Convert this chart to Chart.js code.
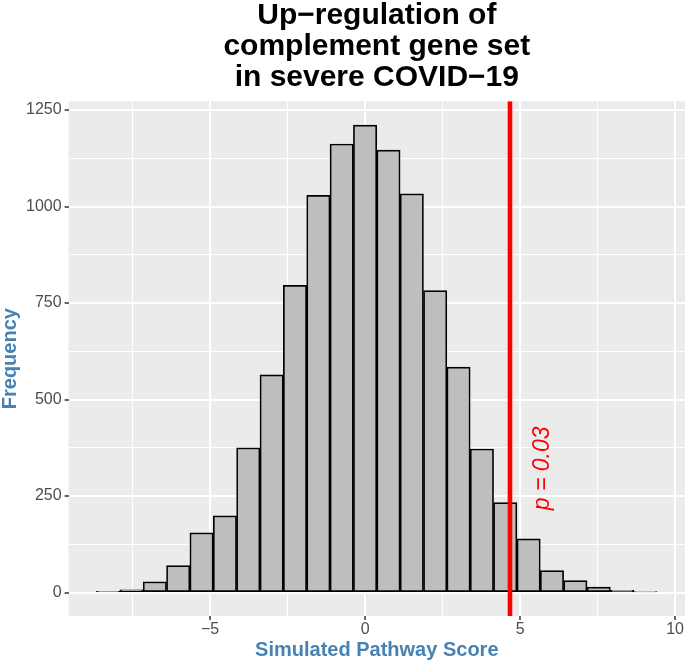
<!DOCTYPE html>
<html>
<head>
<meta charset="utf-8">
<title>Simulated pathway score histogram</title>
<script src="https://cdn.jsdelivr.net/npm/chart.js@4.4.0/dist/chart.umd.min.js"></script>
<style>
  html, body { margin: 0; padding: 0; background: #fff; overflow: hidden; }
  #wrap { width: 686px; height: 660px; }
</style>
</head>
<body>
<div id="wrap"><canvas id="histChart" width="686" height="660"></canvas></div>
<script>
// histogram bins (centres) and counts
const binCenters = [-8.289, -7.535, -6.782, -6.028, -5.275, -4.521, -3.768, -3.014,
                    -2.261, -1.507, -0.754, 0, 0.754, 1.507, 2.261, 3.014,
                    3.768, 4.521, 5.275, 6.028, 6.782, 7.535, 8.289, 9.042];
const binCounts = [3, 7, 28, 70, 155, 199, 375, 564,
                   796, 1029, 1162, 1211, 1146, 1033, 782, 584,
                   372, 233, 139, 57, 31, 14, 6, 2];

const xMajorTicks = [-5, 0, 5, 10];
const xMinorTicks = [-7.5, -2.5, 2.5, 7.5];
const yMajorTicks = [0, 250, 500, 750, 1000, 1250];
const yMinorTicks = [125, 375, 625, 875, 1125];
const xRange = [-9.564, 10.32];
const yRange = [-60.6, 1272.6];

const observedScore = 4.674;
const pLabel = 'p = 0.03';
const pLabelX = 5.72;
const pLabelY = 322;

const titleLines = ['Up\u2212regulation of', 'complement gene set', 'in severe COVID\u221219'];
const xTitle = 'Simulated Pathway Score';
const yTitle = 'Frequency';

const FONT = "'Liberation Sans', Arial, Helvetica, sans-serif";
const AXIS_BLUE = '#4682B4';

function fmt(v) {
    return v < 0 ? '\u2212' + Math.abs(v) : String(v);
}

// grey ggplot-like panel behind the grid
const panelBg = {
    id: 'panelBg',
    beforeDraw(chart) {
        const { ctx, chartArea: a } = chart;
        ctx.save();
        ctx.fillStyle = '#EBEBEB';
        ctx.fillRect(a.left, a.top, a.right - a.left, a.bottom - a.top);
        ctx.restore();
    }
};

// rotated p-value annotation
const pText = {
    id: 'pText',
    afterDatasetsDraw(chart) {
        const { ctx, scales } = chart;
        const px = scales.x.getPixelForValue(pLabelX);
        const py = scales.y.getPixelForValue(pLabelY);
        ctx.save();
        ctx.translate(px, py);
        ctx.rotate(-Math.PI / 2);
        ctx.fillStyle = '#FF0000';
        ctx.font = 'italic 23px ' + FONT;
        ctx.textAlign = 'center';
        ctx.textBaseline = 'middle';
        ctx.fillText(pLabel, 0, 0);
        ctx.restore();
    }
};

function tickSetter(list) {
    return function(scale) {
        scale.ticks = list.slice().sort((a, b) => a - b).map(v => ({ value: v }));
    };
}

function gridFor(major) {
    return {
        offset: false,
        color: '#FFFFFF',
        lineWidth: ctx => (ctx.tick && major.includes(ctx.tick.value)) ? 2 : 1,
        tickColor: ctx => (ctx.tick && major.includes(ctx.tick.value)) ? '#333333' : 'rgba(0,0,0,0)',
        tickLength: 4,
        tickWidth: 1.5
    };
}

const ctx = document.getElementById('histChart').getContext('2d');
new Chart(ctx, {
    type: 'bar',
    data: {
        datasets: [
            {
                type: 'line',
                data: [{ x: observedScore, y: yRange[0] }, { x: observedScore, y: yRange[1] }],
                borderColor: '#FF0000',
                borderWidth: 4.6,
                pointRadius: 0,
                order: 0
            },
            {
                type: 'bar',
                data: binCenters.map((x, i) => ({ x: x, y: binCounts[i] })),
                backgroundColor: '#BEBEBE',
                borderColor: '#000000',
                borderWidth: 1.7,
                borderSkipped: false,
                barPercentage: 1,
                categoryPercentage: 1,
                grouped: false,
                order: 1
            }
        ]
    },
    options: {
        responsive: false,
        animation: false,
        devicePixelRatio: 1,
        layout: { padding: 0 },
        plugins: {
            legend: { display: false },
            tooltip: { enabled: false },
            title: {
                display: true,
                text: titleLines,
                color: '#000000',
                fullSize: false,
                font: { family: FONT, size: 30, weight: 'bold', lineHeight: 1.03 },
                padding: { top: 0, bottom: 8.6 }
            }
        },
        scales: {
            x: {
                type: 'linear',
                offset: false,
                min: xRange[0],
                max: xRange[1],
                afterBuildTicks: tickSetter(xMajorTicks.concat(xMinorTicks)),
                border: { display: false },
                grid: gridFor(xMajorTicks),
                ticks: {
                    autoSkip: false,
                    maxRotation: 0,
                    color: '#4D4D4D',
                    padding: 2,
                    font: { family: FONT, size: 16, lineHeight: 1 },
                    callback: v => xMajorTicks.includes(v) ? fmt(v) : ''
                },
                title: {
                    display: true,
                    text: xTitle,
                    color: AXIS_BLUE,
                    font: { family: FONT, size: 20, weight: 'bold', lineHeight: 1 },
                    padding: { top: 0, bottom: 0 }
                }
            },
            y: {
                type: 'linear',
                min: yRange[0],
                max: yRange[1],
                afterBuildTicks: tickSetter(yMajorTicks.concat(yMinorTicks)),
                border: { display: false },
                grid: gridFor(yMajorTicks),
                ticks: {
                    autoSkip: false,
                    color: '#4D4D4D',
                    padding: 3,
                    font: { family: FONT, size: 16, lineHeight: 1 },
                    callback: v => yMajorTicks.includes(v) ? fmt(v) : ''
                },
                title: {
                    display: true,
                    text: yTitle,
                    color: AXIS_BLUE,
                    font: { family: FONT, size: 20, weight: 'bold', lineHeight: 1 },
                    padding: { top: 0, bottom: 3 }
                }
            }
        }
    },
    plugins: [panelBg, pText]
});
</script>
</body>
</html>
